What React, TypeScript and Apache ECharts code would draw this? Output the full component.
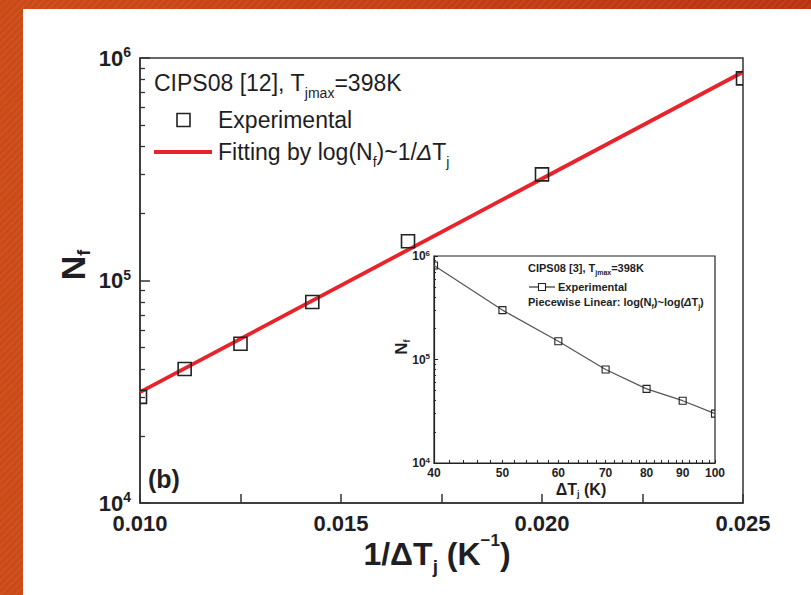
import React, { useEffect, useRef } from "react";
import * as echarts from "echarts";

// ---- data ----
const deltaT = [40, 50, 60, 70, 80, 90, 100];
const invDeltaT = [0.025, 0.02, 0.016667, 0.014286, 0.0125, 0.011111, 0.01];
const cyclesNf = [810000, 300000, 150000, 80000, 52000, 40000, 30000];
const fitX = [0.01, 0.025];
const fitNf = [31500, 865000];

// ---- tick positions / labels ----
const mainXTicks = [0.01, 0.0125, 0.015, 0.0175, 0.02, 0.0225, 0.025];
const mainXLabels = [0.01, 0.015, 0.02, 0.025];
const decadeTicks = [10000, 100000, 1000000];
const minorLogTicks = [
  20000, 30000, 40000, 50000, 60000, 70000, 80000, 90000,
  200000, 300000, 400000, 500000, 600000, 700000, 800000, 900000,
];
const insetXLabels = [40, 50, 60, 70, 80, 90, 100];
const insetXTicks = [
  40, 42, 44, 46, 48, 50, 52, 54, 56, 58, 60, 62, 64, 66, 68, 70, 72, 74, 76, 78,
  80, 82, 84, 86, 88, 90, 92, 94, 96, 98, 100,
];

const FONT = "'Liberation Sans', Arial, sans-serif";
const TXT = "#1e1e24";

const expFmt = (v: number) => `{b|10}{s|${Math.round(Math.log10(v))}}`;

const squareItem = (size: number, lw: number) => (params: any, api: any) => {
  const p = api.coord([api.value(0), api.value(1)]);
  return {
    type: "rect",
    shape: { x: p[0] - size / 2, y: p[1] - size / 2, width: size, height: size },
    style: { fill: "none", stroke: "#222", lineWidth: lw },
  };
};

export default function App() {
  const ref = useRef<HTMLDivElement>(null);

  useEffect(() => {
    if (!ref.current) return;
    const chart = echarts.init(ref.current, null, { renderer: "svg" });

    const mainPts = invDeltaT.map((x, i) => [x, cyclesNf[i]]);
    const insetPts = deltaT.map((x, i) => [x, cyclesNf[i]]);
    const fitPts = fitX.map((x, i) => [x, fitNf[i]]);

    const option: any = {
      animation: false,
      backgroundColor: "transparent",
      grid: [
        {
          left: 140, top: 58, width: 603, height: 445,
          show: true, borderColor: "#333", borderWidth: 1.5, backgroundColor: "transparent",
        },
        {
          left: 434, top: 256, width: 281, height: 207,
          show: true, borderColor: "#222", borderWidth: 1.2, backgroundColor: "#fff",
        },
      ],
      xAxis: [
        {
          gridIndex: 0, type: "value", min: 0.01, max: 0.025, interval: 0.0025, position: "bottom",
          axisLine: { show: true, lineStyle: { color: "#333", width: 1.5 } },
          axisTick: { show: true, inside: true, length: 9, customValues: mainXTicks, lineStyle: { color: "#333", width: 1.5 } },
          axisLabel: {
            show: true, margin: 9, customValues: mainXLabels,
            formatter: (v: number) => v.toFixed(3),
            fontSize: 22, fontWeight: "bold", color: TXT, fontFamily: FONT,
          },
          splitLine: { show: false },
        },
        {
          gridIndex: 1, type: "log", logBase: 10, min: 40, max: 100, position: "bottom",
          axisLine: { show: true, lineStyle: { color: "#222", width: 1.2 } },
          axisTick: { show: true, inside: true, length: 3, customValues: insetXTicks, lineStyle: { color: "#222", width: 1 } },
          axisLabel: {
            show: true, margin: 4, customValues: insetXLabels,
            formatter: (v: number) => String(Math.round(v)),
            fontSize: 12, fontWeight: "bold", color: TXT, fontFamily: FONT,
          },
          splitLine: { show: false },
        },
      ],
      yAxis: [
        {
          gridIndex: 0, type: "log", logBase: 10, min: 10000, max: 1000000, position: "left",
          axisLine: { show: true, lineStyle: { color: "#333", width: 1.5 } },
          axisTick: { show: true, inside: true, length: 10, customValues: decadeTicks, lineStyle: { color: "#333", width: 1.5 } },
          axisLabel: {
            show: true, margin: 9, customValues: decadeTicks, formatter: expFmt,
            color: TXT, fontFamily: FONT,
            rich: {
              b: { fontSize: 22, fontWeight: "bold", color: TXT, fontFamily: FONT, lineHeight: 26 },
              s: { fontSize: 14, fontWeight: "bold", color: TXT, fontFamily: FONT, lineHeight: 14, verticalAlign: "top" },
            },
          },
          splitLine: { show: false },
        },
        {
          gridIndex: 0, type: "log", logBase: 10, min: 10000, max: 1000000, position: "left", offset: 0,
          axisLine: { show: false },
          axisTick: { show: true, inside: true, length: 5, customValues: minorLogTicks, lineStyle: { color: "#333", width: 1.3 } },
          axisLabel: { show: false },
          splitLine: { show: false },
        },
        {
          gridIndex: 1, type: "log", logBase: 10, min: 10000, max: 1000000, position: "left",
          axisLine: { show: true, lineStyle: { color: "#222", width: 1.2 } },
          axisTick: { show: true, inside: true, length: 4, customValues: decadeTicks, lineStyle: { color: "#222", width: 1 } },
          axisLabel: {
            show: true, margin: 4, customValues: decadeTicks, formatter: expFmt,
            color: TXT, fontFamily: FONT,
            rich: {
              b: { fontSize: 12, fontWeight: "bold", color: TXT, fontFamily: FONT, lineHeight: 14 },
              s: { fontSize: 8, fontWeight: "bold", color: TXT, fontFamily: FONT, lineHeight: 8, verticalAlign: "top" },
            },
          },
          splitLine: { show: false },
        },
        {
          gridIndex: 1, type: "log", logBase: 10, min: 10000, max: 1000000, position: "left", offset: 0,
          axisLine: { show: false },
          axisTick: { show: true, inside: true, length: 2, customValues: minorLogTicks, lineStyle: { color: "#222", width: 1 } },
          axisLabel: { show: false },
          splitLine: { show: false },
        },
      ],
      series: [
        {
          type: "line", xAxisIndex: 0, yAxisIndex: 0, data: fitPts,
          symbol: "none", lineStyle: { color: "#e8232b", width: 3.8 }, z: 3,
        },
        {
          type: "custom", xAxisIndex: 0, yAxisIndex: 0, data: mainPts,
          encode: { x: 0, y: 1 }, clip: true, renderItem: squareItem(13, 1.6), z: 4,
        },
        {
          type: "line", xAxisIndex: 1, yAxisIndex: 2, data: insetPts,
          symbol: "none", lineStyle: { color: "#555", width: 1.2 }, z: 5,
        },
        {
          type: "custom", xAxisIndex: 1, yAxisIndex: 2, data: insetPts,
          encode: { x: 0, y: 1 }, clip: true, renderItem: squareItem(7, 1.1), z: 6,
        },
      ],
      graphic: [
        // main annotation
        {
          type: "text", x: 154, y: 83,
          style: {
            text: "{a|CIPS08 [12], T}{s|jmax}{a|=398K}",
            verticalAlign: "middle", fill: TXT,
            rich: {
              a: { fontSize: 23, fontFamily: FONT, fill: TXT, lineHeight: 34 },
              s: { fontSize: 14, fontFamily: FONT, fill: TXT, lineHeight: 14, verticalAlign: "bottom" },
            },
          },
        },
        {
          type: "rect", shape: { x: 177, y: 113.5, width: 13, height: 13 },
          style: { fill: "none", stroke: "#222", lineWidth: 1.6 },
        },
        {
          type: "text", x: 218, y: 120,
          style: { text: "Experimental", fontSize: 23, fontFamily: FONT, fill: TXT, verticalAlign: "middle" },
        },
        {
          type: "line", shape: { x1: 154, y1: 152, x2: 212, y2: 152 },
          style: { stroke: "#e8232b", lineWidth: 4 },
        },
        {
          type: "text", x: 218, y: 152,
          style: {
            text: "{a|Fitting by log(N}{s|f}{a|)~1/}{i|Δ}{a|T}{s|j}",
            verticalAlign: "middle", fill: TXT,
            rich: {
              a: { fontSize: 23, fontFamily: FONT, fill: TXT, lineHeight: 34 },
              i: { fontSize: 23, fontFamily: FONT, fill: TXT, lineHeight: 34, fontStyle: "italic" },
              s: { fontSize: 14, fontFamily: FONT, fill: TXT, lineHeight: 14, verticalAlign: "bottom" },
            },
          },
        },
        // (b)
        {
          type: "text", x: 148, y: 479,
          style: { text: "(b)", fontSize: 25, fontWeight: "bold", fontFamily: FONT, fill: TXT, verticalAlign: "middle" },
        },
        // main y name
        {
          type: "text", x: 73, y: 265, rotation: Math.PI / 2,
          style: {
            text: "{a|N}{s|f}", align: "center", verticalAlign: "middle", fill: TXT,
            rich: {
              a: { fontSize: 34, fontWeight: "bold", fontFamily: FONT, fill: TXT, lineHeight: 40 },
              s: { fontSize: 18, fontWeight: "bold", fontFamily: FONT, fill: TXT, lineHeight: 18, verticalAlign: "bottom" },
            },
          },
        },
        // main x name
        {
          type: "text", x: 437, y: 554,
          style: {
            text: "{a|1/ΔT}{s|j}{a| (K}{p|−1}{a|)}",
            align: "center", verticalAlign: "middle", fill: TXT,
            rich: {
              a: { fontSize: 32, fontWeight: "bold", fontFamily: FONT, fill: TXT, lineHeight: 44 },
              s: { fontSize: 19, fontWeight: "bold", fontFamily: FONT, fill: TXT, lineHeight: 19, verticalAlign: "bottom" },
              p: { fontSize: 17, fontWeight: "bold", fontFamily: FONT, fill: TXT, lineHeight: 17, verticalAlign: "top" },
            },
          },
        },
        // inset annotation
        {
          type: "text", x: 528, y: 268,
          style: {
            text: "{a|CIPS08 [3], T}{s|jmax}{a|=398K}",
            verticalAlign: "middle", fill: TXT,
            rich: {
              a: { fontSize: 11, fontWeight: "bold", fontFamily: FONT, fill: TXT, lineHeight: 16 },
              s: { fontSize: 7, fontWeight: "bold", fontFamily: FONT, fill: TXT, lineHeight: 7, verticalAlign: "bottom" },
            },
          },
        },
        {
          type: "line", shape: { x1: 529, y1: 287, x2: 555, y2: 287 },
          style: { stroke: "#333", lineWidth: 1.2 },
        },
        {
          type: "rect", shape: { x: 538.5, y: 283.5, width: 7, height: 7 },
          style: { fill: "#fff", stroke: "#222", lineWidth: 1.1 },
        },
        {
          type: "text", x: 558, y: 287,
          style: { text: "Experimental", fontSize: 11, fontWeight: "bold", fontFamily: FONT, fill: TXT, verticalAlign: "middle" },
        },
        {
          type: "text", x: 528, y: 302,
          style: {
            text: "{a|Piecewise Linear: log(N}{s|f}{a|)~log(}{i|Δ}{a|T}{s|j}{a|)}",
            verticalAlign: "middle", fill: TXT,
            rich: {
              a: { fontSize: 11, fontWeight: "bold", fontFamily: FONT, fill: TXT, lineHeight: 16 },
              i: { fontSize: 11, fontWeight: "bold", fontStyle: "italic", fontFamily: FONT, fill: TXT, lineHeight: 16 },
              s: { fontSize: 7, fontWeight: "bold", fontFamily: FONT, fill: TXT, lineHeight: 7, verticalAlign: "bottom" },
            },
          },
        },
        // inset y name
        {
          type: "text", x: 401, y: 347, rotation: Math.PI / 2,
          style: {
            text: "{a|N}{s|f}", align: "center", verticalAlign: "middle", fill: TXT,
            rich: {
              a: { fontSize: 17, fontWeight: "bold", fontFamily: FONT, fill: TXT, lineHeight: 20 },
              s: { fontSize: 9, fontWeight: "bold", fontFamily: FONT, fill: TXT, lineHeight: 9, verticalAlign: "bottom" },
            },
          },
        },
        // inset x name
        {
          type: "text", x: 581, y: 489,
          style: {
            text: "{a|ΔT}{s|j}{a| (K)}",
            align: "center", verticalAlign: "middle", fill: TXT,
            rich: {
              a: { fontSize: 16, fontWeight: "bold", fontFamily: FONT, fill: TXT, lineHeight: 18 },
              s: { fontSize: 9, fontWeight: "bold", fontFamily: FONT, fill: TXT, lineHeight: 9, verticalAlign: "bottom" },
            },
          },
        },
      ],
    };

    chart.setOption(option);
    return () => chart.dispose();
  }, []);

  return (
    <div
      style={{
        position: "fixed", left: 0, top: 0, width: 811, height: 595, overflow: "hidden",
        background:
          "repeating-linear-gradient(135deg, rgba(255,255,255,0.05) 0px, rgba(255,255,255,0.05) 2px, rgba(0,0,0,0) 2px, rgba(0,0,0,0) 5px), linear-gradient(90deg, #cc4a16, #bb3311)",
      }}
    >
      <div style={{ position: "absolute", left: 23, top: 9, right: 0, bottom: 0, background: "#fff" }} />
      <div ref={ref} style={{ position: "absolute", left: 0, top: 0, width: 811, height: 595 }} />
    </div>
  );
}
